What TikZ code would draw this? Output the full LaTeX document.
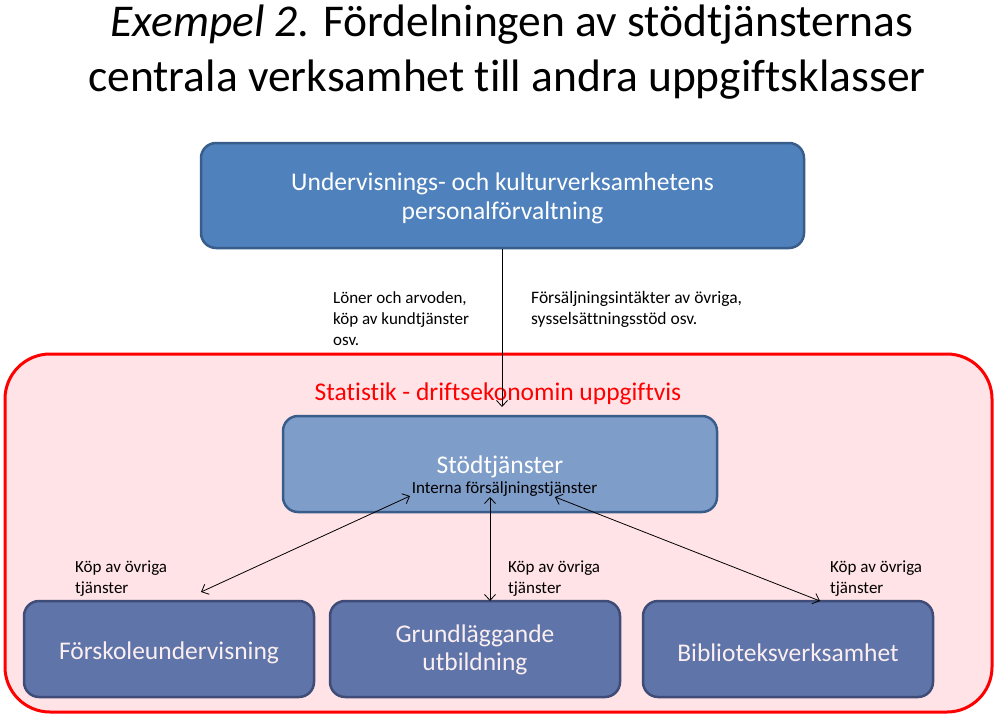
\documentclass[tikz,border=0pt]{standalone}
\usepackage{fontspec}
\setmainfont[Ligatures=NoCommon]{Carlito}
\usetikzlibrary{arrows.meta}
\definecolor{topfill}{HTML}{4F81BD}
\definecolor{topdraw}{HTML}{385D8A}
\definecolor{stodfill}{HTML}{7F9DC9}
\definecolor{botfill}{HTML}{5F74A8}
\definecolor{botdraw}{HTML}{3F4C78}
\definecolor{bottext}{HTML}{FBEFF1}
\definecolor{pinkbg}{HTML}{FFE3E6}
\begin{document}
\begin{tikzpicture}[x=1pt,y=-1pt,
  topbox/.style={draw=topdraw,line width=2.5pt,fill=topfill,rounded corners=15pt,
    minimum width=603pt,minimum height=105pt,inner sep=0pt},
  toptext/.style={text=white,font=\fontsize{25.5}{29}\selectfont,align=center,inner sep=0pt},
  stodbox/.style={draw=topdraw,line width=2.5pt,fill=stodfill,rounded corners=15pt,
    minimum width=434pt,minimum height=96pt,inner sep=0pt},
  botbox/.style={draw=botdraw,line width=2.5pt,fill=botfill,rounded corners=15pt,
    minimum width=290pt,minimum height=96pt,inner sep=0pt},
  bottxt/.style={text=bottext,font=\fontsize{25.5}{28}\selectfont,align=center,inner sep=0pt},
  lbl/.style={anchor=north west,inner sep=0pt,align=left,font=\fontsize{17}{21}\selectfont},
  titlefont/.style={font=\fontsize{45.5}{54}\selectfont,anchor=base},
  conn/.style={line width=0.8pt,{Straight Barb[length=6pt,width=11pt,line width=0.8pt]}-{Straight Barb[length=6pt,width=11pt,line width=0.8pt]}},
  conn1/.style={line width=0.8pt,-{Straight Barb[length=6pt,width=11pt,line width=0.8pt]}}
]
\useasboundingbox (0,0) rectangle (1003,717);
\fill[white] (0,0) rectangle (1003,717);
% title
\node[titlefont] (title1) at (512,37) {\textit{Exempel 2.} Fördelningen av stödtjänsternas};
\node[titlefont] (title2) at (507,91) {centrala verksamhet till andra uppgiftsklasser};
% top box
\node[topbox] (top) at (502.5,195.5) {};
\node[toptext,yshift=-3pt] (toptxt) at (top.center) {Undervisnings- och kulturverksamhetens\\personalförvaltning};
% red region
\node[draw=red,line width=3pt,fill=pinkbg,rounded corners=45pt,minimum width=987pt,
  minimum height=358pt,inner sep=0pt] (region) at (498.5,533) {};
\node[text=red,font=\fontsize{25.5}{29}\selectfont,anchor=base] (stat) at (498,400)
  {Statistik - driftsekonomin uppgiftvis};
% labels above
\node[lbl] (loner) at (333,291) {Löner och arvoden,\\köp av kundtjänster\\osv.};
\node[lbl,font=\fontsize{17.5}{21}\selectfont] (fors) at (531,291) {Försäljningsintäkter av övriga,\\sysselsättningsstöd osv.};
% stod
\node[stodbox] (stod) at (500,464) {};
\node[text=white,font=\fontsize{25.5}{29}\selectfont,anchor=base] (stodt) at (500,473) {Stödtjänster};
\node[font=\fontsize{17}{20}\selectfont,anchor=base] (intern) at (504.5,493) {Interna försäljningstjänster};
% bottom boxes
\node[botbox] (b1) at (169,649) {};
\node[botbox] (b2) at (475,649) {};
\node[botbox] (b3) at (788,649) {};
\node[bottxt,yshift=-4pt] (t1) at (b1.center) {Förskoleundervisning};
\node[bottxt,yshift=-1pt] (t2) at (b2.center) {Grundläggande\\utbildning};
\node[bottxt,yshift=-4pt] (t3) at (b3.center) {Biblioteksverksamhet};
% labels below
\node[lbl] (k1) at (75,561) {Köp av övriga\\tjänster};
\node[lbl] (k2) at (508,561) {Köp av övriga\\tjänster};
\node[lbl] (k3) at (830,561) {Köp av övriga\\tjänster};
% connector endpoints
\coordinate (sL) at (410,496);
\coordinate (sM) at (490,497);
\coordinate (sR) at (555,497);
\coordinate (eL) at (201,592);
\coordinate (eM) at (490,601);
\coordinate (eR) at (820,601);
\coordinate (topIn) at (502,407);
\draw[conn1] (top.south -| topIn) -- (topIn);
\draw[conn] (sL) -- (eL);
\draw[conn] (sM) -- (eM);
\draw[conn] (sR) -- (eR);
\end{tikzpicture}
\end{document}
